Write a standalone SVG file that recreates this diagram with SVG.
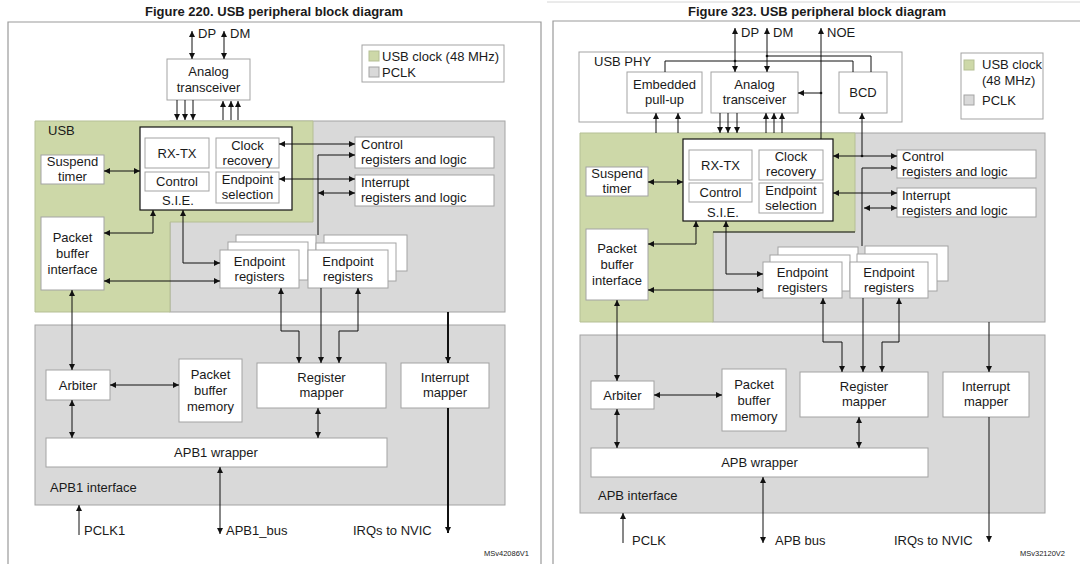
<svg xmlns="http://www.w3.org/2000/svg" width="1080" height="564" viewBox="0 0 1080 564">
  <defs>
    <marker id="ah" viewBox="0 0 6 6" refX="6" refY="3" markerWidth="6" markerHeight="6" markerUnits="userSpaceOnUse" orient="auto-start-reverse">
      <path d="M0,0 L6,3 L0,6 z" fill="#111"/>
    </marker>
    <style>
      text { font-family: "Liberation Sans", Arial, sans-serif; font-size: 13px; fill: #1a1a1a; }
      .t { font-weight: bold; text-anchor: middle; }
      .c { text-anchor: middle; }
      .small { font-size: 7.5px; text-anchor: end; }
      .frame { stroke: #9a9a9a; stroke-width: 1.2; fill: none; }
      .box { fill: #fff; stroke: #a3a3a3; stroke-width: 1; }
      .sie { fill: #fff; stroke: #111; stroke-width: 1.2; }
      .pclk { fill: #d9d9d9; stroke: #a3a3a3; stroke-width: 1; }
      .usbclk { fill: #cdd8a8; stroke: #b5bf95; stroke-width: 1; }
      .w { fill: none; stroke: #111; stroke-width: 1; }
      .b { fill: none; stroke: #111; stroke-width: 1; marker-start: url(#ah); marker-end: url(#ah); }
      .e { fill: none; stroke: #111; stroke-width: 1; marker-end: url(#ah); }
      .thick { stroke-width: 2; }
      .dot { fill: #111; }
    </style>
  </defs>
  <rect width="1080" height="564" fill="#fff"/>

  <!-- ================= Figure 220 ================= -->
  <g id="fig220">
    <text class="t" x="274" y="16">Figure 220. USB peripheral block diagram</text>
    <path class="frame" d="M8,564 V22 H541 V564"/>

    <g id="f220-legend">
      <rect class="box" x="362" y="45" width="142" height="37"/>
      <rect class="usbclk" x="369" y="51" width="10" height="10"/>
      <rect class="pclk" x="369" y="67" width="10" height="10"/>
      <text x="382" y="61">USB clock (48 MHz)</text>
      <text x="382" y="77">PCLK</text>
    </g>

    <!-- clock domains -->
    <g id="f220-pclk-domain">
      <rect class="pclk" x="170" y="121" width="335" height="191"/>
    </g>
    <g id="f220-usb-domain">
      <path class="usbclk" d="M35,121 H313 V222 H170 V312 H35 z"/>
      <text x="48" y="135">USB</text>
    </g>
    <g id="f220-apb-domain">
      <rect class="pclk" x="35" y="325" width="470" height="180"/>
      <text x="50" y="492">APB1 interface</text>
    </g>

    <g id="f220-analog">
      <rect class="box" x="167" y="59" width="83" height="41"/>
      <text class="c" x="208.5" y="76">Analog</text>
      <text class="c" x="208.5" y="92">transceiver</text>
    </g>
    <g id="f220-sie">
      <rect class="sie" x="140" y="127" width="152" height="83"/>
      <rect class="box" x="145" y="138" width="64" height="30"/>
      <text class="c" x="177" y="158">RX-TX</text>
      <rect class="box" x="145" y="172" width="64" height="19"/>
      <text class="c" x="177" y="186">Control</text>
      <text class="c" x="178" y="205">S.I.E.</text>
      <rect class="box" x="216" y="138" width="63" height="30"/>
      <text class="c" x="247.5" y="150">Clock</text>
      <text class="c" x="247.5" y="165">recovery</text>
      <rect class="box" x="216" y="172" width="63" height="31"/>
      <text class="c" x="247.5" y="184">Endpoint</text>
      <text class="c" x="247.5" y="199">selection</text>
    </g>
    <g id="f220-suspend">
      <rect class="box" x="41" y="155" width="63" height="29"/>
      <text class="c" x="72.5" y="166">Suspend</text>
      <text class="c" x="72.5" y="181">timer</text>
    </g>
    <g id="f220-ctrl-regs">
      <rect class="box" x="355" y="137" width="139" height="31"/>
      <text x="361" y="149">Control</text>
      <text x="361" y="164">registers and logic</text>
    </g>
    <g id="f220-int-regs">
      <rect class="box" x="355" y="175" width="139" height="31"/>
      <text x="361" y="187">Interrupt</text>
      <text x="361" y="202">registers and logic</text>
    </g>
    <g id="f220-pbi">
      <rect class="box" x="41" y="217" width="63" height="73"/>
      <text class="c" x="72.5" y="242">Packet</text>
      <text class="c" x="72.5" y="258">buffer</text>
      <text class="c" x="72.5" y="274">interface</text>
    </g>
    <g id="f220-ep1">
      <rect class="box" x="236" y="235" width="80" height="37"/>
      <rect class="box" x="228" y="242" width="80" height="38"/>
      <rect class="box" x="220" y="250" width="79" height="38"/>
      <text class="c" x="259.5" y="266">Endpoint</text>
      <text class="c" x="259.5" y="281">registers</text>
    </g>
    <g id="f220-ep2">
      <rect class="box" x="324" y="235" width="83" height="36"/>
      <rect class="box" x="316" y="243" width="80" height="38"/>
      <rect class="box" x="308" y="250" width="80" height="38"/>
      <text class="c" x="348" y="266">Endpoint</text>
      <text class="c" x="348" y="281">registers</text>
    </g>
    <g id="f220-arbiter">
      <rect class="box" x="46" y="370" width="64" height="30"/>
      <text class="c" x="78" y="390">Arbiter</text>
    </g>
    <g id="f220-pbm">
      <rect class="box" x="179" y="359" width="63" height="63"/>
      <text class="c" x="210.5" y="379">Packet</text>
      <text class="c" x="210.5" y="395">buffer</text>
      <text class="c" x="210.5" y="411">memory</text>
    </g>
    <g id="f220-regmap">
      <rect class="box" x="257" y="363" width="129" height="45"/>
      <text class="c" x="321.5" y="382">Register</text>
      <text class="c" x="321.5" y="397">mapper</text>
    </g>
    <g id="f220-intmap">
      <rect class="box" x="401" y="363" width="88" height="45"/>
      <text class="c" x="445" y="382">Interrupt</text>
      <text class="c" x="445" y="397">mapper</text>
    </g>
    <g id="f220-wrapper">
      <rect class="box" x="46" y="438" width="341" height="29"/>
      <text class="c" x="216" y="457">APB1 wrapper</text>
    </g>

    <g id="f220-labels">
      <text x="198" y="38">DP</text>
      <text x="230" y="38">DM</text>
      <text x="84" y="535">PCLK1</text>
      <text x="226" y="535">APB1_bus</text>
      <text x="353" y="535">IRQs to NVIC</text>
      <text class="small" x="529" y="556">MSv42086V1</text>
    </g>

    <g id="f220-connectors">
      <path class="b" d="M192,59 V31"/>
      <path class="b" d="M224,59 V31"/>
      <path class="e" d="M177,100 V120"/>
      <path class="e" d="M185,100 V120"/>
      <path class="e" d="M193,100 V120"/>
      <path class="e" d="M223,120 V101"/>
      <path class="e" d="M231,120 V101"/>
      <path class="e" d="M238,120 V101"/>
      <path class="b" d="M104,171 H140"/>
      <path class="b" d="M279,144 H355"/>
      <path class="b" d="M279,179 H355"/>
      <path class="e" d="M318,235 V155 H355"/>
      <path class="b" d="M318,193 H355"/>
      <path class="b" d="M153,210 V233 H104"/>
      <path class="b" d="M183,210 V263 H220"/>
      <path class="b" d="M104,281 H220"/>
      <path class="b" d="M72,290 V370"/>
      <path class="b" d="M110,385 H179"/>
      <path class="b" d="M281,288 V331 H299 V363"/>
      <path class="e" d="M321,288 V363"/>
      <path class="b" d="M358,288 V331 H339 V363"/>
      <path class="e thick" d="M448,312 V363"/>
      <path class="e thick" d="M448,408 V533"/>
      <path class="b" d="M72,400 V438"/>
      <path class="b" d="M318,408 V438"/>
      <path class="e" d="M79,535 V505"/>
      <path class="b" d="M220,467 V534"/>
    </g>
  </g>

  <!-- ================= Figure 323 ================= -->
  <g id="fig323">
    <line x1="547" y1="2" x2="1080" y2="2" stroke="#d6d6d6" stroke-width="1"/>
    <text class="t" x="817" y="16">Figure 323. USB peripheral block diagram</text>
    <path class="frame" d="M553,564 V21 H1080"/>

    <g id="f323-legend">
      <rect class="box" x="961" y="53" width="82" height="66"/>
      <rect class="usbclk" x="964" y="60" width="10" height="10"/>
      <rect class="pclk" x="964" y="95" width="10" height="10"/>
      <text x="982" y="69">USB clock</text>
      <text x="982" y="85">(48 MHz)</text>
      <text x="982" y="105">PCLK</text>
    </g>

    <g id="f323-phy">
      <rect class="box" x="579" y="52" width="323" height="70"/>
      <text x="594" y="66">USB PHY</text>
    </g>
    <g id="f323-pullup">
      <rect class="box" x="627" y="72" width="75" height="41"/>
      <text class="c" x="664.5" y="89">Embedded</text>
      <text class="c" x="664.5" y="104">pull-up</text>
    </g>
    <g id="f323-analog">
      <rect class="box" x="711" y="72" width="87" height="41"/>
      <text class="c" x="754.5" y="89">Analog</text>
      <text class="c" x="754.5" y="104">transceiver</text>
    </g>
    <g id="f323-bcd">
      <rect class="box" x="839" y="72" width="48" height="41"/>
      <text class="c" x="863" y="97">BCD</text>
    </g>

    <g id="f323-pclk-domain">
      <rect class="pclk" x="713" y="133" width="332" height="189"/>
    </g>
    <g id="f323-usb-domain">
      <path class="usbclk" d="M580,133 H855 V232 H713 V322 H580 z"/>
      <line x1="713" y1="232" x2="855" y2="232" stroke="#111" stroke-width="1.2"/>
    </g>
    <g id="f323-apb-domain">
      <rect class="pclk" x="580" y="335" width="465" height="178"/>
      <text x="598" y="500">APB interface</text>
    </g>

    <g id="f323-sie">
      <rect class="sie" x="683" y="139" width="150" height="82"/>
      <rect class="box" x="689" y="150" width="63" height="30"/>
      <text class="c" x="720.5" y="170">RX-TX</text>
      <rect class="box" x="689" y="183" width="63" height="19"/>
      <text class="c" x="720.5" y="197">Control</text>
      <text class="c" x="723" y="217">S.I.E.</text>
      <rect class="box" x="759" y="150" width="64" height="30"/>
      <text class="c" x="791" y="161">Clock</text>
      <text class="c" x="791" y="176">recovery</text>
      <rect class="box" x="759" y="183" width="64" height="30"/>
      <text class="c" x="791" y="195">Endpoint</text>
      <text class="c" x="791" y="210">selection</text>
    </g>
    <g id="f323-suspend">
      <rect class="box" x="586" y="167" width="62" height="29"/>
      <text class="c" x="617" y="178">Suspend</text>
      <text class="c" x="617" y="193">timer</text>
    </g>
    <g id="f323-ctrl-regs">
      <rect class="box" x="897" y="150" width="139" height="28"/>
      <text x="902" y="161">Control</text>
      <text x="902" y="176">registers and logic</text>
    </g>
    <g id="f323-int-regs">
      <rect class="box" x="897" y="188" width="139" height="29"/>
      <text x="902" y="200">Interrupt</text>
      <text x="902" y="215">registers and logic</text>
    </g>
    <g id="f323-pbi">
      <rect class="box" x="586" y="229" width="62" height="71"/>
      <text class="c" x="617" y="253">Packet</text>
      <text class="c" x="617" y="269">buffer</text>
      <text class="c" x="617" y="285">interface</text>
    </g>
    <g id="f323-ep1">
      <rect class="box" x="778" y="247" width="80" height="36"/>
      <rect class="box" x="770" y="255" width="80" height="36"/>
      <rect class="box" x="763" y="262" width="79" height="36"/>
      <text class="c" x="802.5" y="277">Endpoint</text>
      <text class="c" x="802.5" y="292">registers</text>
    </g>
    <g id="f323-ep2">
      <rect class="box" x="865" y="246" width="83" height="35"/>
      <rect class="box" x="857" y="254" width="80" height="37"/>
      <rect class="box" x="850" y="262" width="78" height="36"/>
      <text class="c" x="889" y="277">Endpoint</text>
      <text class="c" x="889" y="292">registers</text>
    </g>
    <g id="f323-arbiter">
      <rect class="box" x="591" y="381" width="63" height="28"/>
      <text class="c" x="622.5" y="400">Arbiter</text>
    </g>
    <g id="f323-pbm">
      <rect class="box" x="722" y="369" width="64" height="62"/>
      <text class="c" x="754" y="389">Packet</text>
      <text class="c" x="754" y="405">buffer</text>
      <text class="c" x="754" y="421">memory</text>
    </g>
    <g id="f323-regmap">
      <rect class="box" x="800" y="372" width="128" height="45"/>
      <text class="c" x="864" y="391">Register</text>
      <text class="c" x="864" y="406">mapper</text>
    </g>
    <g id="f323-intmap">
      <rect class="box" x="943" y="372" width="86" height="45"/>
      <text class="c" x="986" y="391">Interrupt</text>
      <text class="c" x="986" y="406">mapper</text>
    </g>
    <g id="f323-wrapper">
      <rect class="box" x="591" y="448" width="337" height="29"/>
      <text class="c" x="759.5" y="467">APB wrapper</text>
    </g>

    <g id="f323-labels">
      <text x="741" y="37">DP</text>
      <text x="773" y="37">DM</text>
      <text x="827" y="37">NOE</text>
      <text x="632" y="545">PCLK</text>
      <text x="775" y="545">APB bus</text>
      <text x="894" y="545">IRQs to NVIC</text>
      <text class="small" x="1065" y="556">MSv32120V2</text>
    </g>

    <g id="f323-connectors">
      <path class="b" d="M735,72 V28"/>
      <path class="b" d="M767,72 V28"/>
      <path class="e" d="M821,139 V28"/>
      <path class="e" d="M821,93 H798"/>
      <path class="w" d="M767,56 H871 V72"/>
      <path class="w" d="M665,72 V61 H853 V72"/>
      <path class="e" d="M862,156 V113"/>
      <path class="e" d="M656,133 V113"/>
      <path class="e" d="M678,133 V113"/>
      <path class="e" d="M720,113 V133"/>
      <path class="e" d="M728,113 V133"/>
      <path class="e" d="M737,113 V133"/>
      <path class="e" d="M766,133 V113"/>
      <path class="e" d="M774,133 V113"/>
      <path class="e" d="M782,133 V113"/>
      <path class="b" d="M648,182 H683"/>
      <path class="b" d="M833,156 H897"/>
      <path class="b" d="M833,193 H897"/>
      <path class="e" d="M862,246 V168 H897"/>
      <path class="b" d="M864,208 H897"/>
      <path class="b" d="M696,221 V244 H648"/>
      <path class="b" d="M726,221 V274 H763"/>
      <path class="b" d="M648,290 H763"/>
      <path class="b" d="M617,300 V381"/>
      <path class="b" d="M654,395 H722"/>
      <path class="b" d="M823,298 V342 H842 V372"/>
      <path class="e" d="M863,298 V372"/>
      <path class="b" d="M899,298 V342 H882 V372"/>
      <path class="e" d="M989,322 V372"/>
      <path class="e" d="M989,417 V542"/>
      <path class="b" d="M617,409 V448"/>
      <path class="b" d="M859,417 V448"/>
      <path class="e" d="M623,543 V513"/>
      <path class="b" d="M763,477 V543"/>
      <circle class="dot" cx="767" cy="56" r="1.3"/>
      <circle class="dot" cx="735" cy="61" r="1.3"/>
      <circle class="dot" cx="821" cy="93" r="1.3"/>
      <circle class="dot" cx="862" cy="156" r="1.3"/>
    </g>
  </g>
</svg>
